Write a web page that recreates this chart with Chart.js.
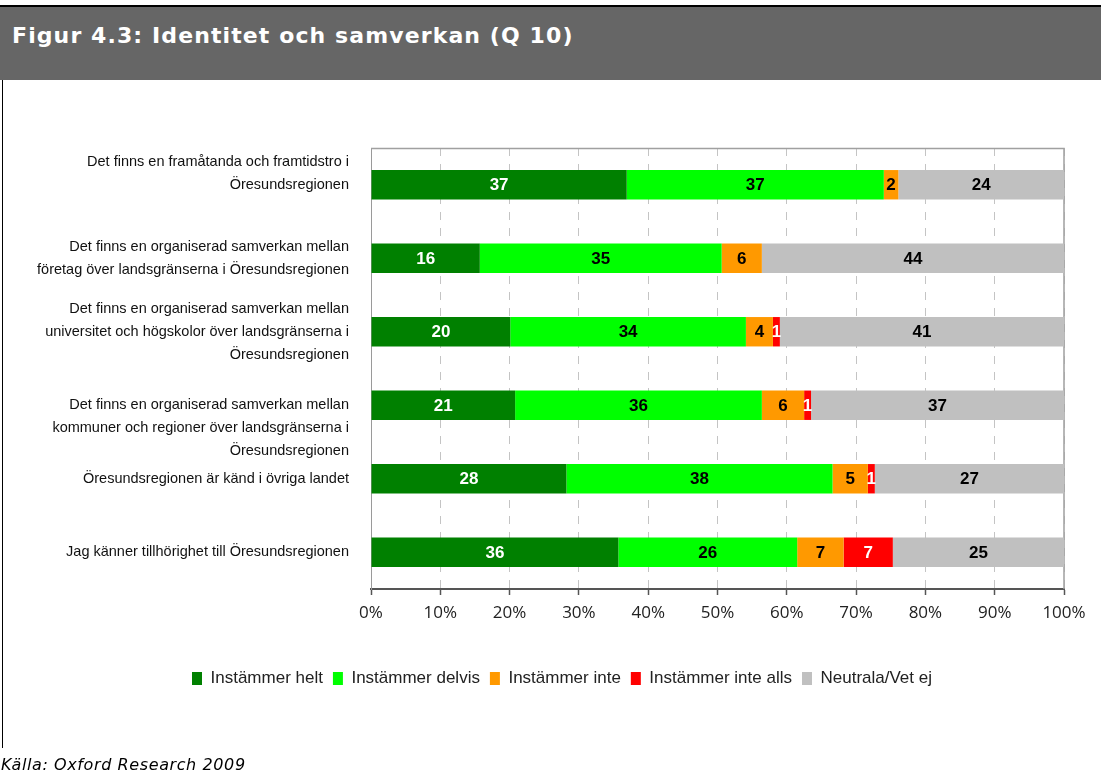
<!DOCTYPE html>
<html><head><meta charset="utf-8">
<script src="https://cdn.jsdelivr.net/npm/chart.js@4/dist/chart.umd.min.js"></script>
<style>
html,body{margin:0;padding:0;background:#fff;width:1101px;height:774px;overflow:hidden;}
canvas{position:absolute;left:0;top:0;}
#topline{position:absolute;left:0;top:5px;width:1101px;height:2px;background:#000;}
#header{position:absolute;left:0;top:7px;width:1101px;height:73px;background:#666666;}
#title{position:absolute;left:12px;top:16px;color:#fff;font:bold 22px "DejaVu Sans",Verdana,sans-serif;letter-spacing:1.1px;white-space:nowrap;}
#leftline{position:absolute;left:2px;top:80px;width:1px;height:668px;background:#000;}
#source{position:absolute;left:1px;top:755px;font:italic 16px "DejaVu Sans",Verdana,sans-serif;letter-spacing:0.6px;color:#000;white-space:nowrap;}
</style></head>
<body>
<canvas id="c" width="1101" height="774"></canvas>
<div id="topline"></div>
<div id="header"><div id="title">Figur 4.3: Identitet och samverkan (Q 10)</div></div>
<div id="leftline"></div>
<div id="source">Källa: Oxford Research 2009</div>
<script>
const categories = [
  ["Det finns en framåtanda och framtidstro i", "Öresundsregionen", ""],
  ["Det finns en organiserad samverkan mellan", "företag över landsgränserna i Öresundsregionen"],
  ["Det finns en organiserad samverkan mellan", "universitet och högskolor över landsgränserna i", "Öresundsregionen"],
  ["", "", "Det finns en organiserad samverkan mellan", "kommuner och regioner över landsgränserna i", "Öresundsregionen"],
  ["Öresundsregionen är känd i övriga landet"],
  ["Jag känner tillhörighet till Öresundsregionen"]
];
const seriesNames = ["Instämmer helt", "Instämmer delvis", "Instämmer inte", "Instämmer inte alls", "Neutrala/Vet ej"];
const instammerHelt   = [36.9, 15.7, 20.1, 20.8, 28.2, 35.7];
const instammerDelvis = [37.1, 34.9, 34.0, 35.6, 38.4, 25.8];
const instammerInte   = [2.1, 5.8, 3.9, 6.1, 5.1, 6.7];
const instammerInteAlls = [0, 0, 1.0, 1.0, 1.0, 7.1];
const neutralaVetEj   = [23.9, 43.6, 41.0, 36.5, 27.3, 24.7];
const tickValues = [0, 10, 20, 30, 40, 50, 60, 70, 80, 90, 100];

const colors = ["#008000", "#00ff00", "#ff9900", "#ff0000", "#c0c0c0"];
const labelColors = ["#ffffff", "#000000", "#000000", "#ffffff", "#000000"];
const allSeries = [instammerHelt, instammerDelvis, instammerInte, instammerInteAlls, neutralaVetEj];

const SANS = '"Liberation Sans",Arial,sans-serif';

const datasets = allSeries.map((d, i) => ({
  label: seriesNames[i],
  data: d,
  backgroundColor: colors[i],
  borderWidth: 0,
  barPercentage: 0.4,
  categoryPercentage: 1.0
}));

const frame = {
  id: 'frame',
  beforeDatasetsDraw(chart) {
    const a = chart.chartArea, ctx = chart.ctx;
    ctx.save();
    ctx.strokeStyle = '#a0a0a0';
    ctx.lineWidth = 1.5;
    ctx.beginPath();
    ctx.moveTo(a.left, a.top + 0.5);
    ctx.lineTo(a.right, a.top + 0.5);
    ctx.lineTo(a.right, a.bottom);
    ctx.stroke();
    ctx.restore();
  }
};

// shift the legend so it is centred under the plot like the original
const legendShift = {
  id: 'legendShift',
  afterLayout(chart) {
    const lg = chart.legend;
    if (lg) { lg.left += 30; lg.right += 30; }
  }
};

const valueLabels = {
  id: 'valueLabels',
  afterDatasetsDraw(chart) {
    const ctx = chart.ctx;
    ctx.save();
    ctx.font = 'bold 17px ' + SANS;
    ctx.textAlign = 'center';
    ctx.textBaseline = 'middle';
    chart.data.datasets.forEach((ds, i) => {
      const meta = chart.getDatasetMeta(i);
      meta.data.forEach((bar, j) => {
        const v = Math.round(ds.data[j]);
        if (v < 1) return;
        ctx.fillStyle = labelColors[i];
        ctx.fillText(String(v), (bar.x + bar.base) / 2, bar.y + 1);
      });
    });
    ctx.restore();
  }
};

new Chart(document.getElementById('c'), {
  type: 'bar',
  data: { labels: categories, datasets },
  options: {
    indexAxis: 'y',
    responsive: false,
    animation: false,
    events: [],
    layout: { padding: { top: 148, right: 37, bottom: 77, left: 0 } },
    plugins: {
      tooltip: { enabled: false },
      title: { display: false },
      legend: {
        position: 'bottom',
        labels: {
          boxWidth: 10, boxHeight: 13, padding: 10,
          color: '#222', font: { family: SANS, size: 17 }
        }
      }
    },
    scales: {
      x: {
        stacked: true, min: 0, max: 100,
        afterFit(scale) { scale.height = 71; },
        afterBuildTicks(scale) { scale.ticks = tickValues.map(v => ({ value: v })); },
        ticks: {
          callback: v => v + '%',
          color: '#222', padding: 8, autoSkip: false,
          font: { family: '"Open Sans","Noto Sans",sans-serif', size: 17 }
        },
        grid: {
          color: '#c4c4c4', lineWidth: 1,
          tickColor: '#555', tickLength: 6, tickBorderDash: [], tickWidth: 1.5
        },
        border: { display: true, color: '#555', width: 2, dash: [8, 8] }
      },
      y: {
        stacked: true,
        afterFit(scale) { scale.width = 371; },
        ticks: {
          color: '#111', padding: 22, autoSkip: false,
          font: { family: SANS, size: 14.5, lineHeight: 1.586 }
        },
        grid: { display: true, drawOnChartArea: false, drawTicks: false },
        border: { display: true, color: '#9a9a9a', width: 1 }
      }
    }
  },
  plugins: [frame, legendShift, valueLabels]
});
</script>
</body></html>
